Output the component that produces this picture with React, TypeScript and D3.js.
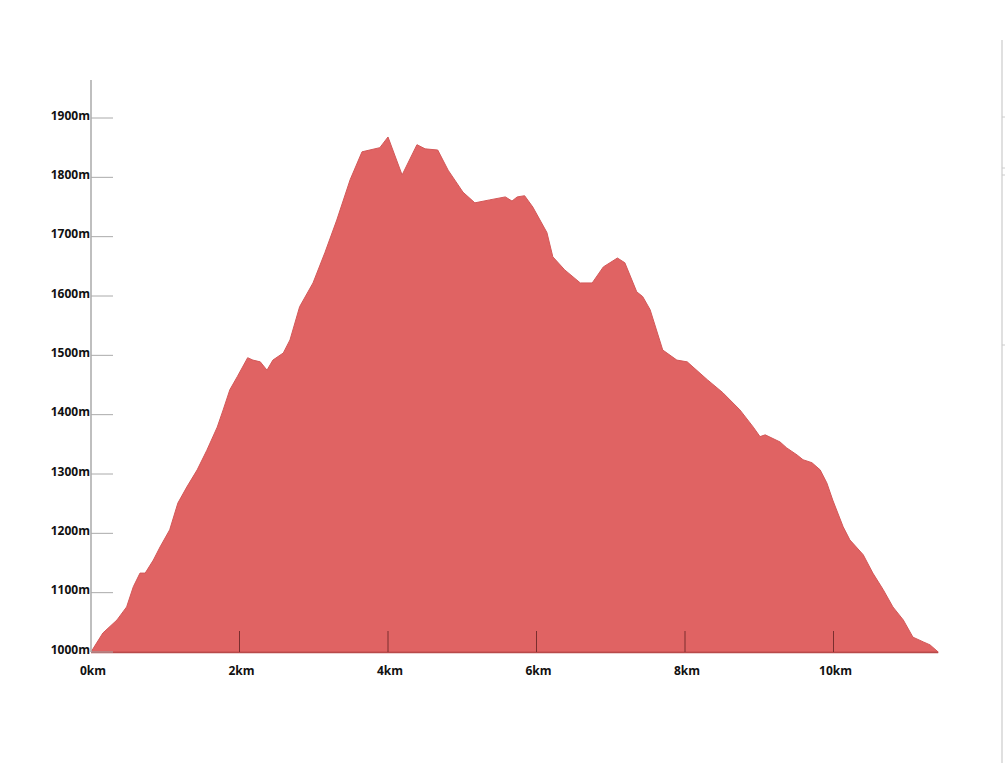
import React from "react";
import * as d3 from "d3";

const distanceKm = [0, 0.16, 0.35, 0.48, 0.57, 0.66, 0.73, 0.84, 0.93, 1.06, 1.17, 1.29, 1.43, 1.56, 1.7, 1.78, 1.87, 1.97, 2.11, 2.18, 2.28, 2.37, 2.45, 2.59, 2.68, 2.81, 2.99, 3.15, 3.31, 3.49, 3.65, 3.89, 4.0, 4.19, 4.39, 4.5, 4.67, 4.81, 5.01, 5.17, 5.37, 5.58, 5.67, 5.74, 5.84, 5.95, 6.14, 6.22, 6.38, 6.59, 6.75, 6.9, 7.09, 7.19, 7.35, 7.43, 7.53, 7.7, 7.89, 8.03, 8.3, 8.51, 8.74, 8.92, 9.01, 9.08, 9.28, 9.37, 9.51, 9.59, 9.71, 9.82, 9.91, 9.99, 10.13, 10.22, 10.4, 10.53, 10.67, 10.8, 10.94, 11.07, 11.21, 11.3, 11.41];
const elevationM = [1000, 1032, 1054, 1076, 1110, 1133, 1133, 1155, 1177, 1206, 1251, 1278, 1307, 1340, 1379, 1408, 1442, 1464, 1496, 1492, 1489, 1475, 1492, 1504, 1526, 1582, 1622, 1673, 1728, 1796, 1843, 1850, 1868, 1804, 1855, 1848, 1846, 1812, 1775, 1757, 1762, 1767, 1760, 1767, 1769, 1750, 1707, 1666, 1644, 1622, 1622, 1649, 1664, 1656, 1607, 1599, 1577, 1509, 1492, 1489, 1459, 1437, 1408, 1379, 1363, 1366, 1354, 1344, 1332, 1324, 1319, 1307, 1285, 1256, 1211, 1189, 1164, 1133, 1105, 1076, 1054, 1025, 1017, 1012, 1000];

const yTicks = [1000, 1100, 1200, 1300, 1400, 1500, 1600, 1700, 1800, 1900];
const xTicks = [0, 2, 4, 6, 8, 10];

export default function App() {
  const W = 1006, H = 763;
  const x0 = 91;
  const x = d3.scaleLinear().domain([0, 10]).range([x0, 833.5]);
  const y = d3.scaleLinear().domain([1000, 1900]).range([652, 118]);
  const data = distanceKm.map((d, i) => ({ d, e: elevationM[i] }));
  const area = d3.area<{ d: number; e: number }>()
    .x((p) => x(p.d))
    .y0(y(1000))
    .y1((p) => y(p.e));
  const font = "'Open Sans', 'DejaVu Sans', sans-serif";
  return (
    <svg width={W} height={H} style={{ position: "absolute", left: 0, top: 0, background: "#fff" }}>
      <rect x={0} y={0} width={W} height={H} fill="#fff" />
      <path d={area(data) || ""} fill="#E06363" stroke="#D35858" strokeWidth={1} />
      <line x1={x(0)} x2={x(11.41)} y1={y(1000) + 0.5} y2={y(1000) + 0.5} stroke="#B84A4A" strokeWidth={1.5} />
      <line x1={x0} x2={x0} y1={80} y2={y(1000)} stroke="#aaa" strokeWidth={1.5} />
      {yTicks.map((t) => (
        <g key={t}>
          <line x1={x0} x2={x0 + 22} y1={y(t)} y2={y(t)} stroke="#aaa" strokeWidth={1} />
          <text x={x0 - 1} y={y(t) + 1.5} textAnchor="end" fontFamily={font} fontWeight="bold" fontSize={12} fill="#111">
            {t}m
          </text>
        </g>
      ))}
      {xTicks.map((t) => (
        <g key={t}>
          {t > 0 && (
            <line x1={x(t)} x2={x(t)} y1={y(1000) - 21} y2={y(1000)} stroke="#7a2e2e" strokeWidth={1} />
          )}
          <text x={x(t) + 2} y={675} textAnchor="middle" fontFamily={font} fontWeight="bold" fontSize={12} fill="#111">
            {t}km
          </text>
        </g>
      ))}
      <line x1={1002} x2={1002} y1={40} y2={H} stroke="#d6d6d6" strokeWidth={1.5} />
      {[117, 168, 175, 345].map((v) => (
        <line key={v} x1={1002} x2={1005} y1={v} y2={v} stroke="#ccc" strokeWidth={1} />
      ))}
    </svg>
  );
}
